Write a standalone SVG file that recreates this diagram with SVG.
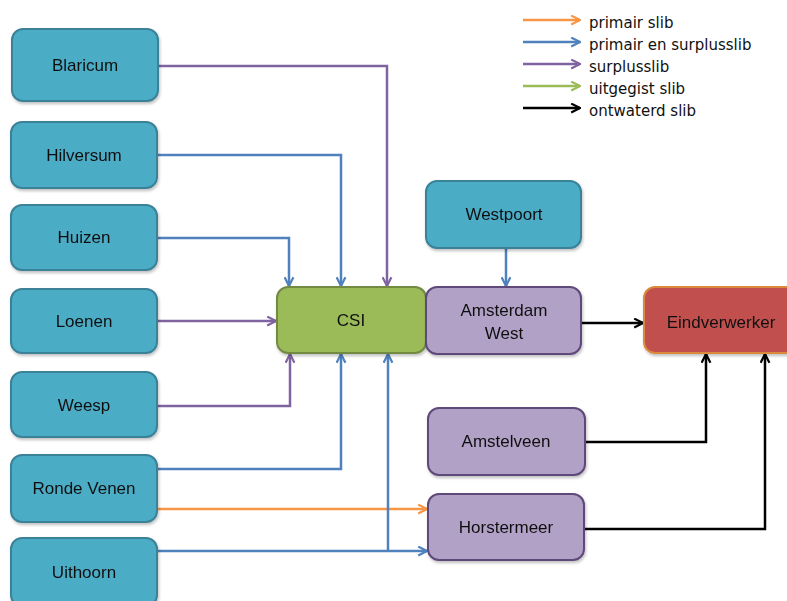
<svg xmlns="http://www.w3.org/2000/svg" width="787" height="601" viewBox="0 0 787 601">
<style>
.n{stroke-width:2}
.teal{fill:#4BACC6;stroke:#3a8298}
.green{fill:#9BBB59;stroke:#738a42}
.purple{fill:#B2A1C7;stroke:#5f497a}
.red{fill:#C0504D;stroke:#d98a3c}
.t{font-family:"Liberation Sans",Arial,sans-serif;font-size:17px;fill:#111;text-anchor:middle}
.lg{font-family:"DejaVu Sans",Verdana,sans-serif;font-size:15px;fill:#111}
.c{fill:none;stroke-width:2.5}
.cb{stroke:#4F81BD}.cp{stroke:#8064A2}.co{stroke:#F79646}.cg{stroke:#9BBB59}.ck{stroke:#000}
</style>
<defs>
<filter id="sh" x="-10%" y="-10%" width="120%" height="130%"><feDropShadow dx="1" dy="2" stdDeviation="1.5" flood-color="#000" flood-opacity="0.25"/></filter>
<marker id="ab" viewBox="0 0 10 10" refX="9" refY="5" markerWidth="11" markerHeight="11" markerUnits="userSpaceOnUse" orient="auto"><path d="M1,1 L9,5 L1,9" fill="none" stroke="#4F81BD" stroke-width="2"/></marker>
<marker id="ap" viewBox="0 0 10 10" refX="9" refY="5" markerWidth="11" markerHeight="11" markerUnits="userSpaceOnUse" orient="auto"><path d="M1,1 L9,5 L1,9" fill="none" stroke="#8064A2" stroke-width="2"/></marker>
<marker id="ao" viewBox="0 0 10 10" refX="9" refY="5" markerWidth="11" markerHeight="11" markerUnits="userSpaceOnUse" orient="auto"><path d="M1,1 L9,5 L1,9" fill="none" stroke="#F79646" stroke-width="2"/></marker>
<marker id="ag" viewBox="0 0 10 10" refX="9" refY="5" markerWidth="11" markerHeight="11" markerUnits="userSpaceOnUse" orient="auto"><path d="M1,1 L9,5 L1,9" fill="none" stroke="#9BBB59" stroke-width="2"/></marker>
<marker id="ak" viewBox="0 0 10 10" refX="9" refY="5" markerWidth="11" markerHeight="11" markerUnits="userSpaceOnUse" orient="auto"><path d="M1,1 L9,5 L1,9" fill="none" stroke="#000" stroke-width="2"/></marker>
</defs>
<rect width="787" height="601" fill="#fff"/>

<g id="legend">
<line class="c co" x1="523" y1="20" x2="580" y2="20" stroke-width="3" marker-end="url(#ao)"/>
<line class="c cb" x1="523" y1="42" x2="580" y2="42" stroke-width="3" marker-end="url(#ab)"/>
<line class="c cp" x1="523" y1="64" x2="580" y2="64" stroke-width="3" marker-end="url(#ap)"/>
<line class="c cg" x1="523" y1="86" x2="580" y2="86" stroke-width="3" marker-end="url(#ag)"/>
<line class="c ck" x1="523" y1="108" x2="580" y2="108" stroke-width="3" marker-end="url(#ak)"/>
<text class="lg" x="589" y="28">primair slib</text>
<text class="lg" x="589" y="50">primair en surplusslib</text>
<text class="lg" x="589" y="72">surplusslib</text>
<text class="lg" x="589" y="94">uitgegist slib</text>
<text class="lg" x="589" y="116">ontwaterd slib</text>
</g>

<g id="connectors">
<polyline class="c cp" points="158,66 387,66 387,286" marker-end="url(#ap)"/>
<polyline class="c cb" points="157,155 341,155 341,286" marker-end="url(#ab)"/>
<polyline class="c cb" points="157,238 289,238 289,286" marker-end="url(#ab)"/>
<polyline class="c cp" points="158,321 276,321" marker-end="url(#ap)"/>
<polyline class="c cp" points="158,406 290,406 290,354" marker-end="url(#ap)"/>
<polyline class="c cb" points="157,469 341,469 341,354" marker-end="url(#ab)"/>
<polyline class="c co" points="157,509 427,509" marker-end="url(#ao)"/>
<polyline class="c cb" points="158,551 427,551" marker-end="url(#ab)"/>
<polyline class="c cb" points="388,551 388,354" marker-end="url(#ab)"/>
<polyline class="c cb" points="506,248 506,286" marker-end="url(#ab)"/>
<polyline class="c ck" points="581,323 643,323" marker-end="url(#ak)"/>
<polyline class="c ck" points="585,442 706,442 706,354" marker-end="url(#ak)"/>
<polyline class="c ck" points="584,529 765,529 765,354" marker-end="url(#ak)"/>
</g>

<g id="blaricum" filter="url(#sh)"><rect class="n teal" x="12" y="29" width="146" height="72" rx="11"/><text class="t" x="85" y="71">Blaricum</text></g>
<g id="hilversum" filter="url(#sh)"><rect class="n teal" x="11" y="122" width="146" height="66" rx="11"/><text class="t" x="84" y="161">Hilversum</text></g>
<g id="huizen" filter="url(#sh)"><rect class="n teal" x="11" y="205" width="146" height="65" rx="11"/><text class="t" x="84" y="243">Huizen</text></g>
<g id="loenen" filter="url(#sh)"><rect class="n teal" x="11" y="289" width="146" height="64" rx="11"/><text class="t" x="84" y="327">Loenen</text></g>
<g id="weesp" filter="url(#sh)"><rect class="n teal" x="11" y="372" width="146" height="65" rx="11"/><text class="t" x="84" y="411">Weesp</text></g>
<g id="rondevenen" filter="url(#sh)"><rect class="n teal" x="11" y="455" width="146" height="67" rx="11"/><text class="t" x="84" y="494">Ronde Venen</text></g>
<g id="uithoorn" filter="url(#sh)"><rect class="n teal" x="11" y="538" width="146" height="68" rx="11"/><text class="t" x="84" y="578">Uithoorn</text></g>
<g id="westpoort" filter="url(#sh)"><rect class="n teal" x="426" y="181" width="155" height="67" rx="11"/><text class="t" x="504" y="220">Westpoort</text></g>
<g id="csi" filter="url(#sh)"><rect class="n green" x="277" y="287" width="149" height="66" rx="11"/><text class="t" x="351" y="326">CSI</text></g>
<g id="amsterdamwest" filter="url(#sh)"><rect class="n purple" x="426" y="287" width="155" height="67" rx="11"/><text class="t" x="504" y="316">Amsterdam</text><text class="t" x="504" y="339">West</text></g>
<g id="eindverwerker" filter="url(#sh)"><rect class="n red" x="644" y="287" width="155" height="66" rx="11"/><text class="t" x="721" y="328">Eindverwerker</text></g>
<g id="amstelveen" filter="url(#sh)"><rect class="n purple" x="428" y="408" width="157" height="67" rx="11"/><text class="t" x="506" y="447">Amstelveen</text></g>
<g id="horstermeer" filter="url(#sh)"><rect class="n purple" x="428" y="494" width="156" height="66" rx="11"/><text class="t" x="506" y="533">Horstermeer</text></g>
</svg>
